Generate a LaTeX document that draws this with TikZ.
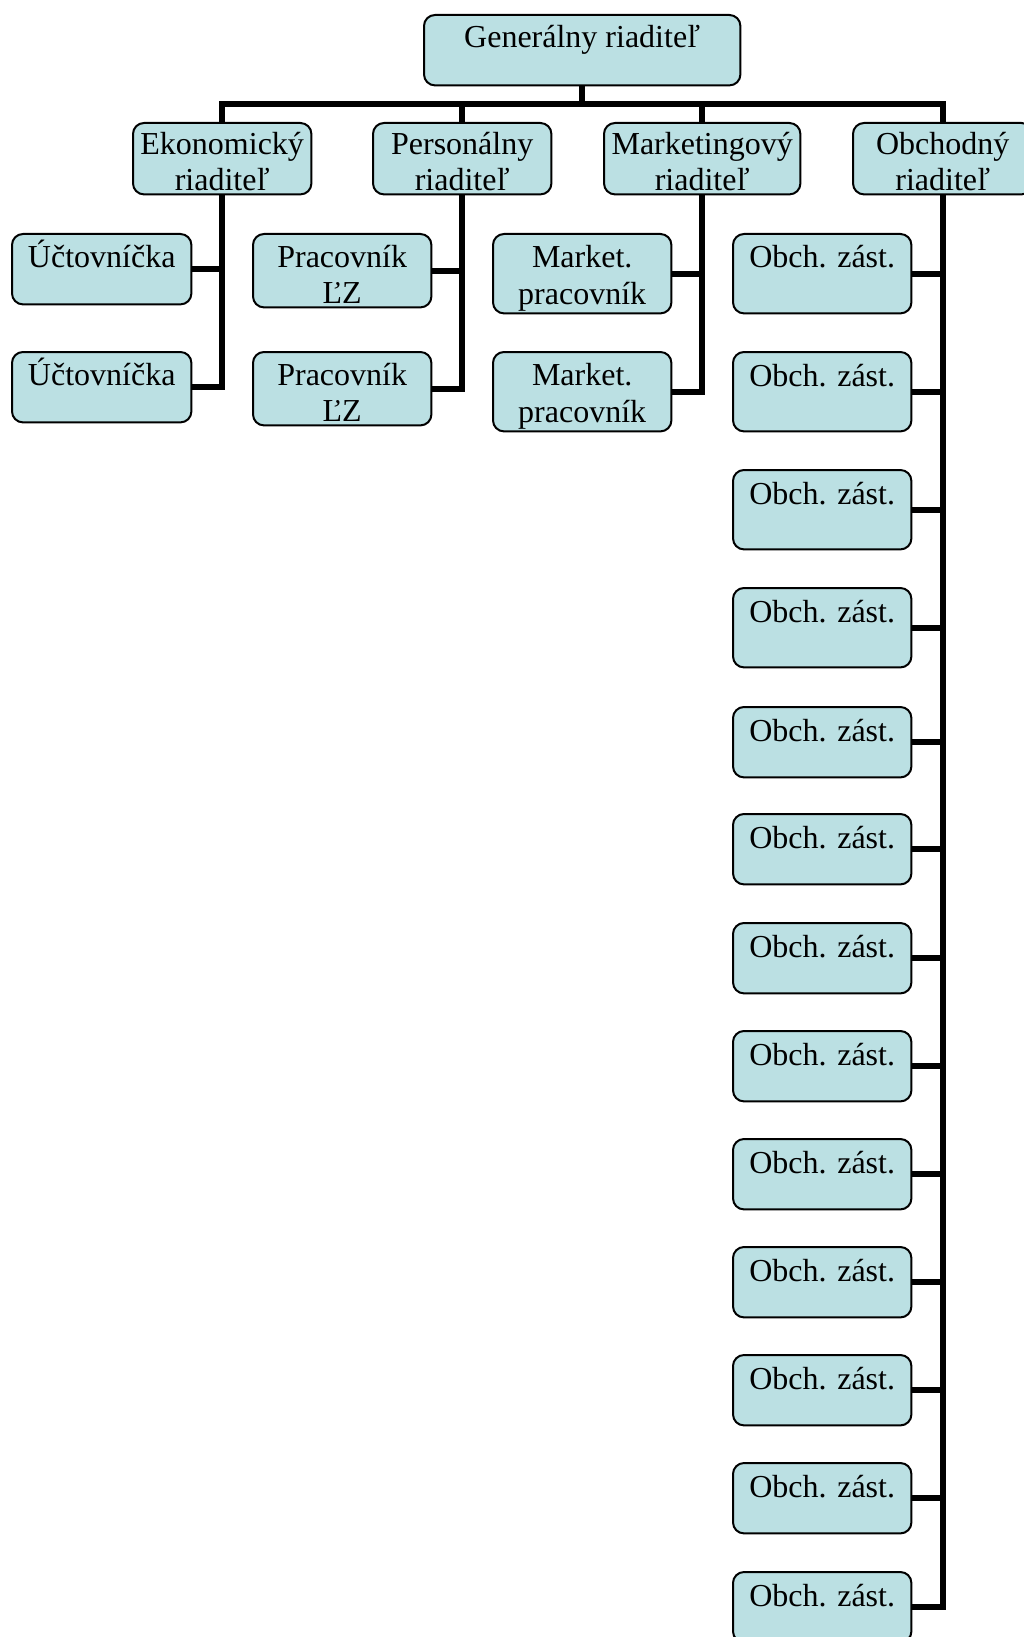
\documentclass[tikz,border=0pt]{standalone}
\usepackage{fontspec}
\setmainfont{Liberation Serif}
\definecolor{boxfill}{RGB}{187,224,227}
\begin{document}
\begin{tikzpicture}[x=1pt,y=-1pt,
  slot/.style={rectangle, draw=none, fill=none, inner sep=0pt, anchor=north west},
  boxdraw/.style={draw=black, line width=2pt, fill=boxfill, rounded corners=11pt},
  txt/.style={font=\fontsize{32}{36}\selectfont, inner sep=0pt, anchor=base},
  conn/.style={draw=black, line width=6pt, line join=miter}]
\useasboundingbox (0,0) rectangle (1024,1637);
\clip (0,0) rectangle (1024,1637);
\coordinate (bus) at (0,104);
% box outlines (positions)
\path
  node[slot, minimum width=316pt, minimum height=70pt] (gr) at (424,15) {}
  node[slot, minimum width=178pt, minimum height=71pt] (ek) at (133,123) {}
  node[slot, minimum width=178pt, minimum height=71pt] (pe) at (373,123) {}
  node[slot, minimum width=196pt, minimum height=71pt] (ma) at (604,123) {}
  node[slot, minimum width=179pt, minimum height=71pt] (ob) at (853,123) {}
  node[slot, minimum width=179pt, minimum height=70pt] (u1) at (12,234) {}
  node[slot, minimum width=179pt, minimum height=70pt] (u2) at (12,352) {}
  node[slot, minimum width=178pt, minimum height=73pt] (p1) at (253,234) {}
  node[slot, minimum width=178pt, minimum height=73pt] (p2) at (253,352) {}
  node[slot, minimum width=178pt, minimum height=79pt] (m1) at (493,234) {}
  node[slot, minimum width=178pt, minimum height=79pt] (m2) at (493,352) {};
\foreach \i/\t/\h in {1/234/79,2/352/79,3/470/79,4/588/79,5/707/70,6/814/70,7/923/70,8/1031/70,9/1139/70,10/1247/70,11/1355/70,12/1463/70,13/1572/70}
  \path node[slot, minimum width=178pt, minimum height=\h pt] (z\i) at (733,\t) {};
% connectors
\draw[conn] (gr.south) -- (gr.south |- bus);
\draw[conn] (ek.north) -- (ek.north |- bus) -- (ob.north |- bus) -- (ob.north);
\draw[conn] (pe.north |- bus) -- (pe.north);
\draw[conn] (ma.north |- bus) -- (ma.north);
\draw[conn] (ek.south) |- (u2.east);
\draw[conn] (u1.east) -- (u1.east -| ek.south);
\draw[conn] (pe.south) |- (p2.east);
\draw[conn] (p1.east) -- (p1.east -| pe.south);
\draw[conn] (ma.south) |- (m2.east);
\draw[conn] (m1.east) -- (m1.east -| ma.south);
\draw[conn] (ob.south) |- (z13.east);
\foreach \i in {1,...,12}
  \draw[conn] (z\i.east) -- (z\i.east -| ob.south);
% visible boxes
\foreach \n in {gr,ek,pe,ma,ob,u1,u2,p1,p2,m1,m2,z1,z2,z3,z4,z5,z6,z7,z8,z9,z10,z11,z12,z13}
  \draw[boxdraw] (\n.north west) rectangle (\n.south east);
% texts
\node[txt] (grt) at ([yshift=-33pt]gr.north) {Generálny riaditeľ};
\node[txt] (ekt) at ([yshift=-32pt]ek.north) {Ekonomický};
\node[txt] (ekt2) at ([yshift=-68pt]ek.north) {riaditeľ};
\node[txt] (pet) at ([yshift=-32pt]pe.north) {Personálny};
\node[txt] (pet2) at ([yshift=-68pt]pe.north) {riaditeľ};
\node[txt] (mat) at ([yshift=-32pt]ma.north) {Marketingový};
\node[txt] (mat2) at ([yshift=-68pt]ma.north) {riaditeľ};
\node[txt] (obt) at ([yshift=-32pt]ob.north) {Obchodný};
\node[txt] (obt2) at ([yshift=-68pt]ob.north) {riaditeľ};
\node[txt] (u1t) at ([yshift=-33pt]u1.north) {Účtovníčka};
\node[txt] (u2t) at ([yshift=-33pt]u2.north) {Účtovníčka};
\node[txt] (p1t) at ([yshift=-33pt]p1.north) {Pracovník};
\node[txt] (p1t2) at ([yshift=-69pt]p1.north) {ĽZ};
\node[txt] (p2t) at ([yshift=-33pt]p2.north) {Pracovník};
\node[txt] (p2t2) at ([yshift=-69pt]p2.north) {ĽZ};
\node[txt] (m1t) at ([yshift=-33pt]m1.north) {Market.};
\node[txt] (m1t2) at ([yshift=-70pt]m1.north) {pracovník};
\node[txt] (m2t) at ([yshift=-33pt]m2.north) {Market.};
\node[txt] (m2t2) at ([yshift=-70pt]m2.north) {pracovník};
\foreach \i in {1,...,13}
  \node[txt] (z\i t) at ([yshift=-34pt]z\i.north) {Obch. zást.};
\end{tikzpicture}
\end{document}
